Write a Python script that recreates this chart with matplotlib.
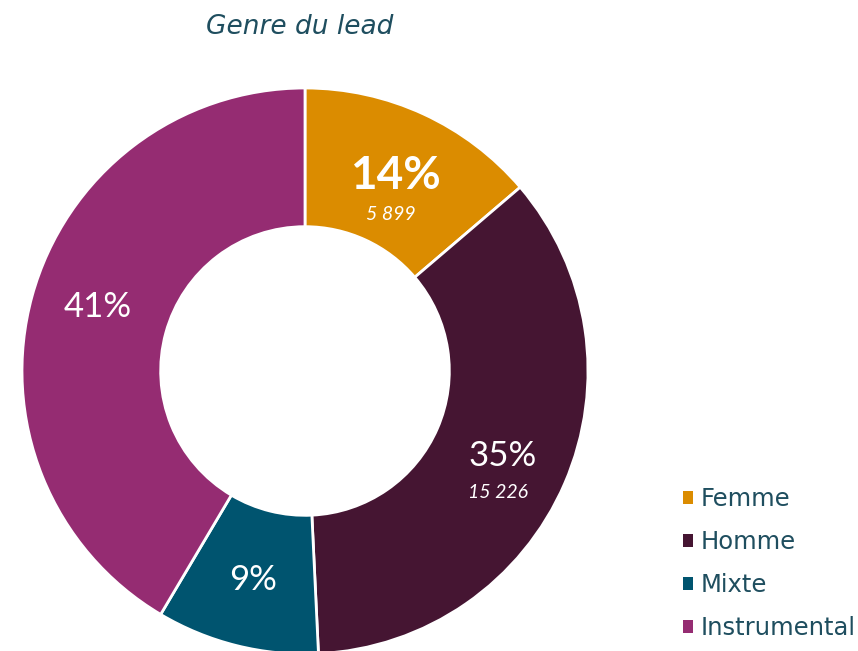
import matplotlib
matplotlib.use("Agg")
import matplotlib.pyplot as plt
import numpy as np

# data
categories = ["Femme", "Homme", "Mixte", "Instrumental"]
counts = [5899, 15226, 3980, 17795]
colors = ["#DB8C00", "#451532", "#00546F", "#952C72"]
shown_counts = ["5 899", "15 226", "", ""]
text_col = "#1F4E5F"

plt.rcParams['font.family'] = ['DejaVu Sans']
num_font = ['Lato', 'DejaVu Sans']

fig = plt.figure(figsize=(8.58, 6.51), dpi=100)
# square axes so that centre is at (305, 371) px and radius 283 px
ax = fig.add_axes([22 / 858, -3 / 651, 566 / 858, 566 / 651])

wedges, _ = ax.pie(counts, colors=colors, startangle=90, counterclock=False,
                   radius=1.0, wedgeprops=dict(width=0.49, edgecolor="white", linewidth=2))
ax.set_xlim(-1, 1)
ax.set_ylim(-1, 1)
ax.set_aspect("equal")
ax.axis("off")

total = sum(counts)
for i, w in enumerate(wedges):
    mid = np.deg2rad((w.theta1 + w.theta2) / 2)
    r = 0.76
    x, y = r * np.cos(mid), r * np.sin(mid)
    pct = "%d%%" % round(counts[i] / total * 100)
    if i == 0:
        ax.text(x, y, pct, ha="center", va="center", color="white",
                fontsize=33, fontweight="bold", family=num_font)
    elif i == 3:
        ax.text(x, y + 0.025, pct, ha="center", va="center",
                color="white", fontsize=25, family=num_font)
    else:
        ax.text(x, y, pct, ha="center", va="center",
                color="white", fontsize=25, family=num_font)
    if shown_counts[i]:
        dy = 0.138 if i == 0 else 0.127
        ax.text(x - 0.015, y - dy, shown_counts[i], ha="center", va="center",
                color="white", fontsize=14, fontstyle="italic", family=num_font)

fig.text(300 / 858, 1 - 27 / 651, "Genre du lead", ha="center", va="center",
         fontsize=19, fontstyle="italic", color=text_col)

leg = fig.legend(wedges, categories, loc="lower left", bbox_to_anchor=(683 / 858, 11 / 651),
                 frameon=False, fontsize=17.5, handlelength=0.42, handleheight=0.42,
                 handletextpad=0.3, labelspacing=0.78, labelcolor=text_col,
                 borderpad=0, borderaxespad=0)
for h in leg.legend_handles:
    h.set_edgecolor("none")

fig.savefig("out.png", dpi=100)
